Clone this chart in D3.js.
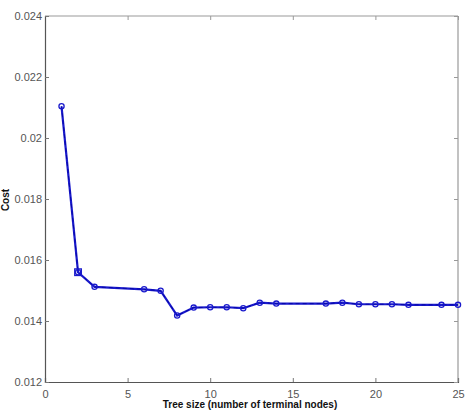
<!DOCTYPE html>
<html>
<head>
<meta charset="utf-8">
<script src="https://cdn.jsdelivr.net/npm/d3@7"></script>
<style>
  body { margin: 0; background: #fff; }
  text { font-family: Arial, "Liberation Sans", sans-serif; }
</style>
</head>
<body>
<svg id="chart" width="471" height="414"></svg>
<script>
// tree sizes (number of terminal nodes) and cost
const treeSize = [1, 2, 3, 6, 7, 8, 9, 10, 11, 12, 13, 14, 17, 18, 19, 20, 21, 22, 24, 25];
const cost = [0.02104, 0.01560, 0.01512, 0.01504, 0.01499, 0.01418, 0.01444, 0.01445, 0.01445,
  0.01442, 0.01460, 0.01457, 0.01457, 0.01460, 0.01455, 0.01455, 0.01455, 0.01453, 0.01453, 0.01453];
const bestSize = [2];
const bestCost = [0.01560];
const xTicks = [0, 5, 10, 15, 20, 25];
const yTicks = [0.012, 0.014, 0.016, 0.018, 0.02, 0.022, 0.024];

const svg = d3.select('#chart');
const mLeft = 45, mRight = 458, mTop = 16, mBottom = 382;

const x = d3.scaleLinear().domain([0, 25]).range([mLeft, mRight]);
const y = d3.scaleLinear().domain([0.012, 0.024]).range([mBottom, mTop]);

const fmt = (d) => String(d); // matlab style: 0.02, 0.012

// box, top/right lighter
svg.append('line').attr('x1', mLeft).attr('x2', mRight).attr('y1', mTop).attr('y2', mTop)
  .attr('stroke', '#999').attr('stroke-width', 1.2);
svg.append('line').attr('x1', mRight).attr('x2', mRight).attr('y1', mTop).attr('y2', mBottom)
  .attr('stroke', '#999').attr('stroke-width', 1.2);

// bottom axis, ticks inward
const gx = svg.append('g').attr('transform', `translate(0,${mBottom})`)
  .call(d3.axisBottom(x).tickValues(xTicks).tickSize(-4).tickPadding(8).tickFormat(fmt));
gx.select('.domain').attr('stroke', '#555').attr('stroke-width', 1.2);
gx.selectAll('.tick line').attr('stroke', '#777');
gx.selectAll('text').attr('font-size', 11).attr('fill', '#555');

// top ticks
svg.append('g').attr('transform', `translate(0,${mTop})`)
  .call(d3.axisTop(x).tickValues(xTicks).tickSize(-4).tickFormat(''))
  .call((g) => g.select('.domain').remove())
  .selectAll('.tick line').attr('stroke', '#999');

// left axis
const gy = svg.append('g').attr('transform', `translate(${mLeft},0)`)
  .call(d3.axisLeft(y).tickValues(yTicks).tickSize(-4).tickPadding(3).tickFormat(fmt));
gy.select('.domain').attr('stroke', '#555').attr('stroke-width', 1.2);
gy.selectAll('.tick line').attr('stroke', '#777');
gy.selectAll('text').attr('font-size', 11).attr('fill', '#555');

// right ticks
svg.append('g').attr('transform', `translate(${mRight},0)`)
  .call(d3.axisRight(y).tickValues(yTicks).tickSize(-4).tickFormat(''))
  .call((g) => g.select('.domain').remove())
  .selectAll('.tick line').attr('stroke', '#999');

// cost line
const pts = treeSize.map((t, i) => [t, cost[i]]);
const line = d3.line().x((d) => x(d[0])).y((d) => y(d[1]));
svg.append('path').datum(pts)
  .attr('d', line).attr('fill', 'none')
  .attr('stroke', '#1a1acc').attr('stroke-width', 2.2);
svg.append('path').datum(pts)
  .attr('d', line).attr('fill', 'none')
  .attr('stroke', '#0000a0').attr('stroke-width', 0.8).attr('stroke-dasharray', '4,3');

svg.selectAll('.pt').data(pts).join('circle')
  .attr('class', 'pt')
  .attr('cx', (d) => x(d[0])).attr('cy', (d) => y(d[1]))
  .attr('r', 2.6).attr('fill', 'none')
  .attr('stroke', '#1a1acc').attr('stroke-width', 1.3);

// best tree marker
svg.selectAll('.best').data(bestSize).join('rect')
  .attr('class', 'best')
  .attr('x', (d) => x(d) - 3.3).attr('y', (d, i) => y(bestCost[i]) - 3.3)
  .attr('width', 6.6).attr('height', 6.6)
  .attr('fill', 'none').attr('stroke', '#1a1acc').attr('stroke-width', 1.3);

// axis titles
svg.append('text')
  .attr('x', 250).attr('y', 408)
  .attr('text-anchor', 'middle')
  .attr('font-size', 10).attr('font-weight', 'bold').attr('fill', '#111')
  .text('Tree size (number of terminal nodes)');
svg.append('text')
  .attr('transform', 'translate(9,200) rotate(-90)')
  .attr('text-anchor', 'middle')
  .attr('font-size', 10).attr('font-weight', 'bold').attr('fill', '#111')
  .text('Cost');
</script>
</body>
</html>
